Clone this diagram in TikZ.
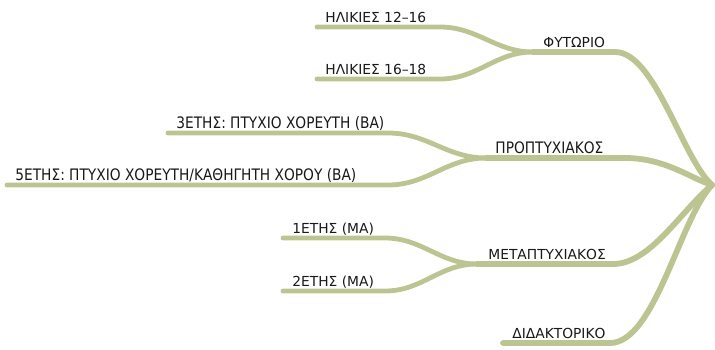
\documentclass[tikz,border=0pt]{standalone}
\usepackage{fontspec}
\setmainfont{DejaVu Sans}
\definecolor{branch}{RGB}{188,197,146}
\newcommand{\narrowlabel}[1]{\scalebox{0.87}[1]{\fontsize{7.9}{9}\selectfont #1}}

\begin{document}
\begin{tikzpicture}[x=0.5pt, y=-0.5pt,
        leaf/.style={draw=branch, line width=2.4pt, line cap=round},
        trunk/.style={draw=branch, line width=2.9pt, line cap=round},
        lbl/.style={anchor=base west, inner sep=0pt, text=black!90,
            font=\fontsize{6.9}{8}\selectfont}]

    \useasboundingbox (0,0) rectangle (715,349);

    % line ends
    \coordinate (root) at (712,185);
    \coordinate (fyt-s) at (533,52);   \coordinate (fyt-e) at (615,52);
    \coordinate (prop-s) at (486,158); \coordinate (prop-e) at (625,158);
    \coordinate (meta-s) at (477,264); \coordinate (meta-e) at (613,264);
    \coordinate (did-s) at (503,343);  \coordinate (did-e) at (610,343);
    \coordinate (h12-s) at (317,27);   \coordinate (h12-e) at (440,27);
    \coordinate (h16-s) at (317,79);   \coordinate (h16-e) at (440,79);
    \coordinate (ba3-s) at (168,133);  \coordinate (ba3-e) at (388,133);
    \coordinate (ba5-s) at (7,185);    \coordinate (ba5-e) at (388,185);
    \coordinate (ma1-s) at (283,238);  \coordinate (ma1-e) at (385,238);
    \coordinate (ma2-s) at (283,291);  \coordinate (ma2-e) at (385,291);

    % labels
    \node[lbl] (fyt) at (543,47) {ΦΥΤΩΡΙΟ};
    \node[lbl] (prop) at (495,153) {\narrowlabel{ΠΡΟΠΤΥΧΙΑΚΟΣ}};
    \node[lbl] (meta) at (488,259) {ΜΕΤΑΠΤΥΧΙΑΚΟΣ};
    \node[lbl] (did) at (512,338) {ΔΙΔΑΚΤΟΡΙΚΟ};
    \node[lbl] (h12) at (325,22) {ΗΛΙΚΙΕΣ 12–16};
    \node[lbl] (h16) at (325,74) {ΗΛΙΚΙΕΣ 16–18};
    \node[lbl] (ba3) at (176,128) {\narrowlabel{3ΕΤΗΣ: ΠΤΥΧΙΟ ΧΟΡΕΥΤΗ (ΒΑ)}};
    \node[lbl] (ba5) at (15,180) {\narrowlabel{5ΕΤΗΣ: ΠΤΥΧΙΟ ΧΟΡΕΥΤΗ/ΚΑΘΗΓΗΤΗ ΧΟΡΟΥ (ΒΑ)}};
    \node[lbl] (ma1) at (292,233) {1ΕΤΗΣ (ΜΑ)};
    \node[lbl] (ma2) at (292,286) {2ΕΤΗΣ (ΜΑ)};

    % main branches
    \draw[trunk] (fyt-s) -- (fyt-e)
        .. controls (655,52) and (682,158) .. (root);
    \draw[trunk] (prop-s) -- (prop-e)
        .. controls (665,158) and (690,178) .. (root);
    \draw[trunk] (meta-s) -- (meta-e)
        .. controls (650,264) and (680,212) .. (root);
    \draw[trunk] (did-s) -- (did-e)
        .. controls (655,343) and (680,218) .. (root);

    % sub branches
    \draw[leaf] (h12-s) -- (h12-e) to[out=0, in=180] (fyt-s);
    \draw[leaf] (h16-s) -- (h16-e) to[out=0, in=180] (fyt-s);
    \draw[leaf] (ba3-s) -- (ba3-e) to[out=0, in=180] (prop-s);
    \draw[leaf] (ba5-s) -- (ba5-e) to[out=0, in=180] (prop-s);
    \draw[leaf] (ma1-s) -- (ma1-e) to[out=0, in=180] (meta-s);
    \draw[leaf] (ma2-s) -- (ma2-e) to[out=0, in=180] (meta-s);

\end{tikzpicture}
\end{document}
